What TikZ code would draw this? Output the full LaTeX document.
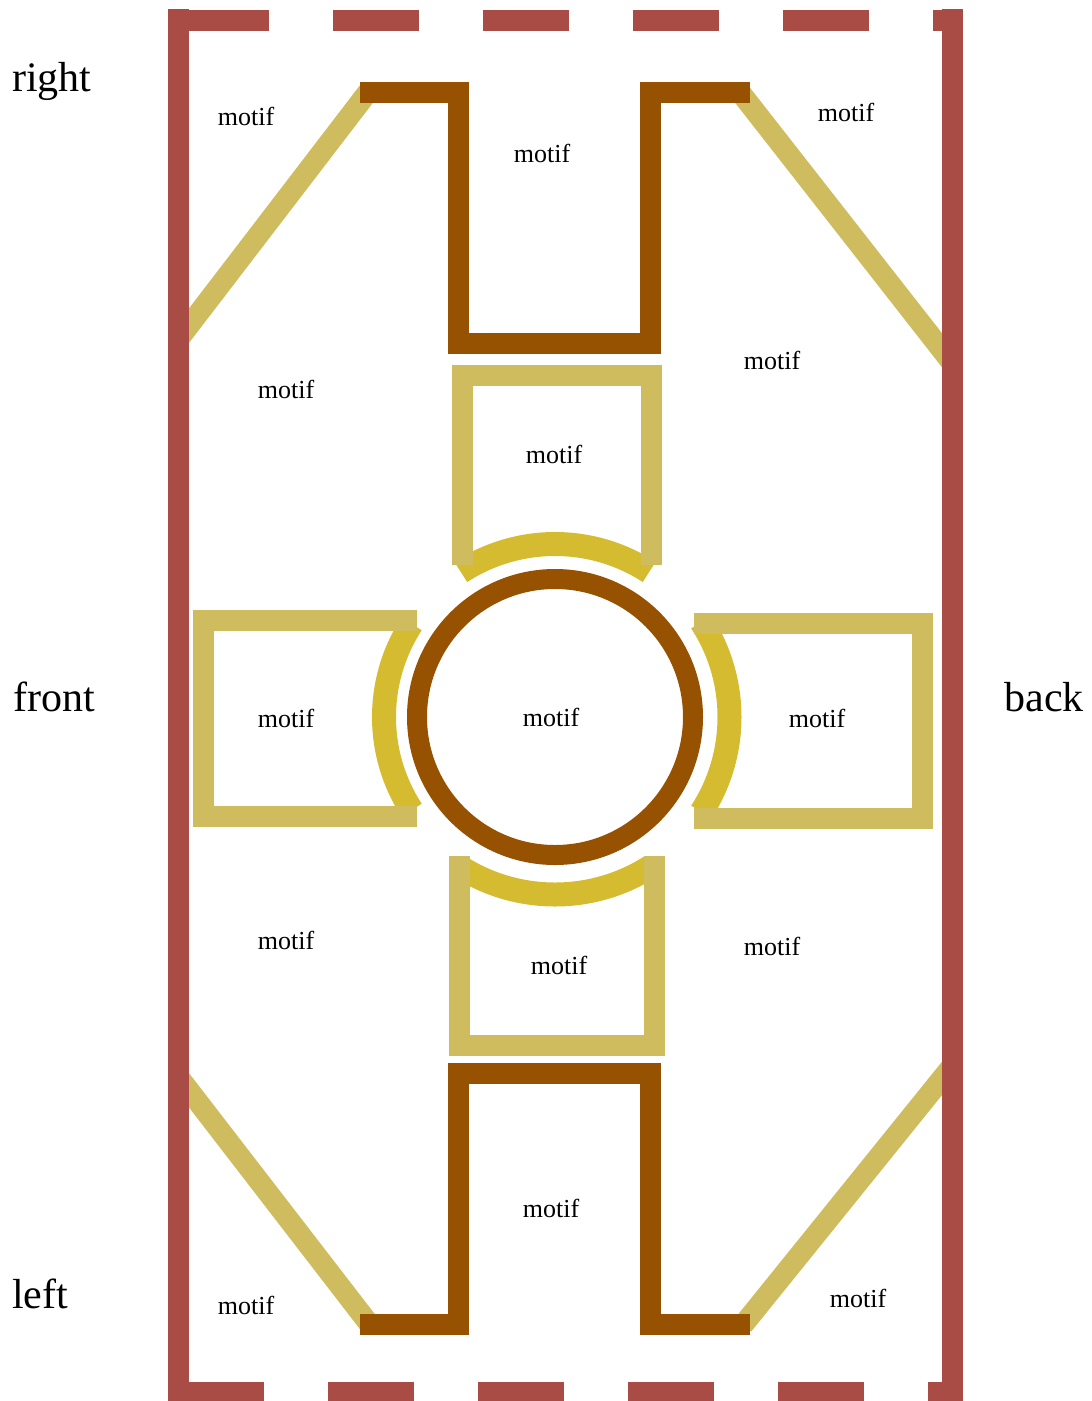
\documentclass[tikz,border=0pt]{standalone}
\usepackage{fontspec}
\setmainfont{Liberation Serif}
\definecolor{framered}{HTML}{A84C45}
\definecolor{ubrown}{HTML}{965200}
\definecolor{khaki}{HTML}{CFBC5E}
\definecolor{gold}{HTML}{D5BB30}
\tikzset{
  redline/.style={draw=framered, line width=21pt},
  brownline/.style={draw=ubrown, line width=21pt},
  khakiline/.style={draw=khaki, line width=21pt},
  goldarc/.style={draw=gold, line width=24pt},
  motiflabel/.style={inner sep=0pt, font=\fontsize{26}{30}\selectfont},
  sidelabel/.style={inner sep=0pt, font=\fontsize{42}{48}\selectfont},
}
\begin{document}
\begin{tikzpicture}[x=1pt,y=-1pt]
\useasboundingbox (0,0) rectangle (1092,1401);
\clip (0,0) rectangle (1092,1401);
\coordinate (c) at (555,717);
% khaki diagonals
\draw[khakiline] (178,340) -- (368,92);
\draw[khakiline] (740,92) -- (952,363);
\draw[khakiline] (178,1076) -- (370,1325);
\draw[khakiline] (743,1325) -- (952,1066);
% brown U shapes
\draw[brownline] (360,92.5) -- (458.5,92.5) -- (458.5,343) -- (650,343) -- (650,92.5) -- (750,92.5);
\draw[brownline] (360,1324.5) -- (458.5,1324.5) -- (458.5,1073) -- (650,1073) -- (650,1324.5) -- (750,1324.5);
% circle
\draw[draw=ubrown, line width=20pt] (c) circle[radius=138];
% gold arcs
\draw[goldarc] (c) ++(237:173) arc[start angle=237, end angle=303, radius=173];
\draw[goldarc] (c) ++(147:171) arc[start angle=147, end angle=213, radius=171];
\draw[goldarc] (c) ++(-33:174.5) arc[start angle=-33, end angle=33, radius=174.5];
\draw[goldarc] (c) ++(57:177.5) arc[start angle=57, end angle=123, radius=177.5];
% khaki boxes
\draw[khakiline] (462.5,565) -- (462.5,375) -- (651,375) -- (651,565);
\draw[khakiline] (417,620.5) -- (203,620.5) -- (203,816) -- (417,816);
\draw[khakiline] (694,623) -- (922,623) -- (922,818) -- (694,818);
\draw[khakiline] (459,856) -- (459,1045) -- (654,1045) -- (654,856);
% red frame
\draw[redline, dash pattern=on 85.5pt off 64.5pt, dash phase=145pt] (178,20.5) -- (952.5,20.5);
\draw[redline, dash pattern=on 85.5pt off 64.5pt] (178,1392) -- (952.5,1392);
\draw[redline] (178,9) -- (178,1410);
\draw[redline] (952.5,9) -- (952.5,1410);
% labels
\node[sidelabel] (lright) at (52,81) {right};
\node[sidelabel] (lfront) at (54,697) {front};
\node[sidelabel] (lleft) at (40,1294) {left};
\node[sidelabel] (lback) at (1044,697) {back};
\node[motiflabel] (m1) at (246,116) {motif};
\node[motiflabel] (m2) at (542,153) {motif};
\node[motiflabel] (m3) at (846,112) {motif};
\node[motiflabel] (m4) at (286,389) {motif};
\node[motiflabel] (m5) at (554,454) {motif};
\node[motiflabel] (m6) at (772,360) {motif};
\node[motiflabel] (m7) at (286,718) {motif};
\node[motiflabel] (m8) at (551,717) {motif};
\node[motiflabel] (m9) at (817,718) {motif};
\node[motiflabel] (m10) at (286,940) {motif};
\node[motiflabel] (m11) at (559,965) {motif};
\node[motiflabel] (m12) at (772,946) {motif};
\node[motiflabel] (m13) at (551,1208) {motif};
\node[motiflabel] (m14) at (246,1305) {motif};
\node[motiflabel] (m15) at (858,1298) {motif};
\end{tikzpicture}
\end{document}
